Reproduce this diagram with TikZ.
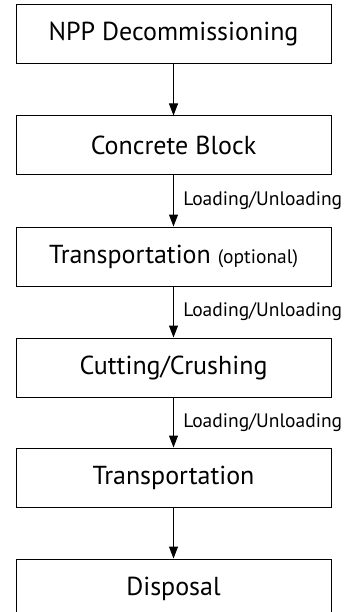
\documentclass[tikz,border=0pt]{standalone}
\usepackage{fontspec}
\setmainfont{PT Sans}
\usepackage{tikz}
\usetikzlibrary{positioning,arrows.meta}

\begin{document}
\begin{tikzpicture}[
        x=1pt, y=1pt,
        box/.style={rectangle, draw, line width=1pt, minimum width=315pt, minimum height=59pt, align=center, font=\fontsize{26}{30}\selectfont},
        arrow/.style={-{Triangle[length=12pt, width=9pt]}, line width=1pt},
        lbl/.style={right, xshift=6pt, font=\fontsize{19.5}{23}\selectfont}
    ]
        \useasboundingbox (0,0) rectangle (349,-612);
        % Process chain
        \node[box] (npp) at (173.5,-34.5) {NPP Decommissioning};
        \node[box, below=51pt of npp] (block) {Concrete Block};
        \node[box, below=51pt of block] (trans1) {Transportation {\fontsize{19.5}{23}\selectfont (optional)}};
        \node[box, below=51pt of trans1] (cut) {Cutting/Crushing};
        \node[box, below=50pt of cut] (trans2) {Transportation};
        \node[box, below=51pt of trans2] (disp) {Disposal};
        % Arrows
        \draw[arrow] (npp) -- (block);
        \draw[arrow] (block) -- node[lbl] {Loading/Unloading} (trans1);
        \draw[arrow] (trans1) -- node[lbl] {Loading/Unloading} (cut);
        \draw[arrow] (cut) -- node[lbl] {Loading/Unloading} (trans2);
        \draw[arrow] (trans2) -- (disp);
    \end{tikzpicture}
\end{document}
